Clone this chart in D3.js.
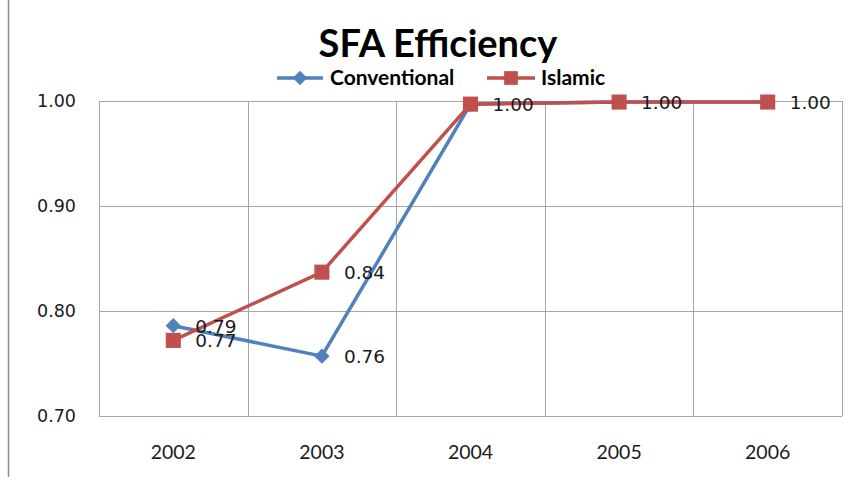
<!DOCTYPE html>
<html>
<head>
<meta charset="utf-8">
<script src="https://cdn.jsdelivr.net/npm/d3@7"></script>
<style>
  body { margin: 0; background: #fff; }
</style>
</head>
<body>
<div id="chart"></div>
<script>
const years = ["2002", "2003", "2004", "2005", "2006"];
const conventional = [0.786, 0.757, 0.997, 0.999, 0.999];
const islamic = [0.772, 0.837, 0.997, 0.999, 0.999];
const yTicks = [0.70, 0.80, 0.90, 1.00];

const width = 855, height = 477;
const margin = {top: 101, right: 13, bottom: 61, left: 99};
const innerW = width - margin.left - margin.right;
const innerH = height - margin.top - margin.bottom;

const svg = d3.select("#chart").append("svg")
    .attr("width", width)
    .attr("height", height);

// outer frame (only the left edge shows)
svg.append("line")
    .attr("x1", 8.5).attr("x2", 8.5)
    .attr("y1", 0).attr("y2", height)
    .attr("stroke", "#8c8c8c").attr("stroke-width", 1.5);

const g = svg.append("g")
    .attr("transform", `translate(${margin.left},${margin.top})`);

const x = d3.scaleBand().domain(years).range([0, innerW]);
const y = d3.scaleLinear().domain([0.7, 1.0]).range([innerH, 0]);

// gridlines
g.selectAll(".hgrid").data(yTicks).enter().append("line")
    .attr("x1", 0).attr("x2", innerW)
    .attr("y1", d => Math.round(y(d)) + 0.5).attr("y2", d => Math.round(y(d)) + 0.5)
    .attr("stroke", "#a6a6a6");

const xEdges = years.map(d => x(d)).concat([innerW]);
g.selectAll(".vgrid").data(xEdges).enter().append("line")
    .attr("x1", d => Math.round(d) + 0.5).attr("x2", d => Math.round(d) + 0.5)
    .attr("y1", 0).attr("y2", innerH)
    .attr("stroke", "#a6a6a6");

// axes labels
g.selectAll(".ytick").data(yTicks).enter().append("text")
    .attr("x", -23).attr("y", d => y(d) + 6)
    .attr("text-anchor", "end")
    .style("font-family", "DejaVu Sans")
    .style("font-size", "17.5px")
    .attr("fill", "#1a1a1a")
    .text(d => d.toFixed(2));

g.selectAll(".xtick").data(years).enter().append("text")
    .attr("x", d => x(d) + x.bandwidth() / 2)
    .attr("y", innerH + 43)
    .attr("text-anchor", "middle")
    .style("font-family", "Lato")
    .style("font-size", "19.5px")
    .attr("fill", "#1a1a1a")
    .text(d => d);

const cx = d => x(d) + x.bandwidth() / 2;
const line = d3.line().x(d => cx(d.year)).y(d => y(d.value));

const series = [
    {name: "Conventional", values: conventional, color: "#4F81BD", marker: "diamond"},
    {name: "Islamic", values: islamic, color: "#C0504D", marker: "square"}
];

series.forEach(s => {
    const pts = years.map((yr, i) => ({year: yr, value: s.values[i]}));
    g.append("path")
        .datum(pts)
        .attr("d", line)
        .attr("fill", "none")
        .attr("stroke", s.color)
        .attr("stroke-width", 3.5)
        .attr("stroke-linejoin", "round");

    const sym = s.marker === "diamond"
        ? d3.symbol().type(d3.symbolDiamond2).size(150)
        : d3.symbol().type(d3.symbolSquare2).size(290);
    g.selectAll(".m-" + s.marker).data(pts).enter().append("path")
        .attr("d", sym)
        .attr("transform", d => `translate(${cx(d.year)},${y(d.value)})`)
        .attr("fill", s.color);
});

// data labels
const labelFont = sel => sel
    .style("font-family", "DejaVu Sans")
    .style("font-size", "18.5px")
    .attr("fill", "#1a1a1a");

g.selectAll(".lab-c").data(years.slice(0, 2)).enter().append("text")
    .attr("x", d => cx(d) + 22)
    .attr("y", (d, i) => y(conventional[i]) + 7)
    .call(labelFont)
    .text((d, i) => conventional[i].toFixed(2));

g.selectAll(".lab-i").data(years).enter().append("text")
    .attr("x", d => cx(d) + 22)
    .attr("y", (d, i) => y(islamic[i]) + 7)
    .call(labelFont)
    .text((d, i) => islamic[i].toFixed(2));

// title
svg.append("text")
    .attr("x", 438).attr("y", 57)
    .attr("text-anchor", "middle")
    .style("font-family", "Lato")
    .style("font-weight", "bold")
    .style("font-size", "38px")
    .attr("fill", "#000")
    .text("SFA Efficiency");

// legend
const legend = svg.append("g").attr("transform", "translate(0,78)");
const legendItems = [
    {s: series[0], x1: 277, x2: 323, tx: 330},
    {s: series[1], x1: 487, x2: 535, tx: 541}
];
legendItems.forEach(it => {
    legend.append("line")
        .attr("x1", it.x1).attr("x2", it.x2)
        .attr("stroke", it.s.color).attr("stroke-width", 3.5);
    const sym = it.s.marker === "diamond"
        ? d3.symbol().type(d3.symbolDiamond2).size(130)
        : d3.symbol().type(d3.symbolSquare2).size(240);
    legend.append("path")
        .attr("d", sym)
        .attr("transform", `translate(${(it.x1 + it.x2) / 2},0)`)
        .attr("fill", it.s.color);
    legend.append("text")
        .attr("x", it.tx).attr("y", 7)
        .style("font-family", "Lato")
        .style("font-weight", "bold")
        .style("font-size", "21px")
        .attr("fill", "#000")
        .text(it.s.name);
});
</script>
</body>
</html>
